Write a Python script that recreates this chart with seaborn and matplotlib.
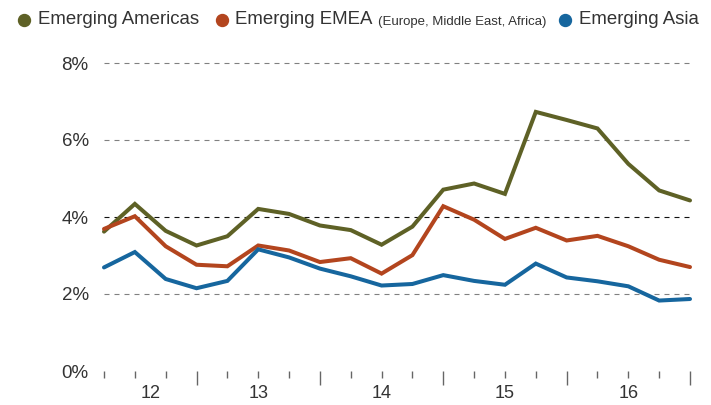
"""Emerging markets growth chart: three regions, quarterly, 2012-2016."""

import matplotlib

matplotlib.use("Agg")

import matplotlib.pyplot as plt
import pandas as pd
import seaborn as sns
from matplotlib.lines import Line2D
from matplotlib.transforms import blended_transform_factory

# quarterly points, index 0..19 (year boundaries at 3, 7, 11, 15, 19)
quarters = list(range(20))
americas = [3.62, 4.34, 3.64, 3.26, 3.50, 4.21, 4.08, 3.78, 3.66, 3.28,
            3.75, 4.71, 4.87, 4.60, 6.73, 6.52, 6.30, 5.38, 4.69, 4.43]
emea = [3.69, 4.02, 3.24, 2.76, 2.72, 3.26, 3.13, 2.83, 2.93, 2.53,
        3.01, 4.28, 3.93, 3.43, 3.72, 3.39, 3.51, 3.24, 2.89, 2.70]
asia = [2.69, 3.09, 2.39, 2.15, 2.34, 3.16, 2.95, 2.66, 2.46, 2.22,
        2.26, 2.49, 2.34, 2.24, 2.79, 2.43, 2.33, 2.20, 1.83, 1.87]
series_names = ["Emerging Americas", "Emerging EMEA", "Emerging Asia"]
year_labels = ["12", "13", "14", "15", "16"]
year_centers = [1.5, 5, 9, 13, 17]
year_ticks = [3, 7, 11, 15, 19]
y_ticks = [0, 2, 4, 6, 8]

colors = {"Emerging Americas": "#5e6126", "Emerging EMEA": "#b3451e", "Emerging Asia": "#16669e"}
TEXT = "#333333"

sns.set_theme(style="white")
plt.rcParams["font.family"] = ["Liberation Sans", "DejaVu Sans"]

df = pd.DataFrame(
    {
        "quarter": quarters * 3,
        "value": americas + emea + asia,
        "region": sum([[name] * len(quarters) for name in series_names], []),
    }
)

fig = plt.figure(figsize=(7.11, 4.05), dpi=100)
ax = fig.add_axes([104 / 711, 34 / 405, 586 / 711, 308 / 405])

# gridlines first so the data sits on top
for val in y_ticks[1:]:
    ax.axhline(val, color="#111111" if val == 4 else "#808080", lw=0.8,
               dashes=(4.5, 4.5), zorder=1)

sns.lineplot(data=df, x="quarter", y="value", hue="region", hue_order=series_names,
             palette=colors, linewidth=2.9, legend=False, ax=ax, zorder=3)
for line in ax.lines:
    line.set_solid_joinstyle("miter")
    line.set_clip_on(False)

ax.set_xlim(0, 19)
ax.set_ylim(0, 8)
for spine in ax.spines.values():
    spine.set_visible(False)

ax.set_yticks(y_ticks)
ax.set_yticklabels([f"{v}%" for v in y_ticks], fontsize=13.5, color=TEXT)
ax.tick_params(axis="y", length=0, pad=11)

ax.set_xticks(year_ticks)
ax.set_xticks([q for q in quarters if q not in year_ticks], minor=True)
ax.set_xticklabels([])
ax.tick_params(axis="x", which="major", bottom=True, length=10, width=1.0,
               color="#666666", direction="out")
ax.tick_params(axis="x", which="minor", bottom=True, length=5, width=1.0,
               color="#666666", direction="out")
ax.set_xlabel("")
ax.set_ylabel("")

trans = blended_transform_factory(ax.transData, ax.transAxes)
for pos, lab in zip(year_centers, year_labels):
    ax.text(pos, -0.072, lab, transform=trans, ha="center", va="center",
            fontsize=13, color=TEXT)

# legend row drawn by hand (EMEA has a smaller subtitle)
legend_y = 1 - 20 / 405
marker_x = [24, 222, 565]
text_x = [38, 235, 579]
for name, mx, tx in zip(series_names, marker_x, text_x):
    fig.add_artist(Line2D([mx / 711], [legend_y], marker="o", markersize=8.6,
                          color=colors[name], lw=0, transform=fig.transFigure))
    fig.text(tx / 711, legend_y, name, ha="left", va="center", fontsize=13.4, color=TEXT)

fig.text(378 / 711, legend_y - 0.004, "(Europe, Middle East, Africa)", ha="left", va="center",
         fontsize=9.5, color=TEXT)

fig.savefig("out.png", dpi=100)
plt.close(fig)
